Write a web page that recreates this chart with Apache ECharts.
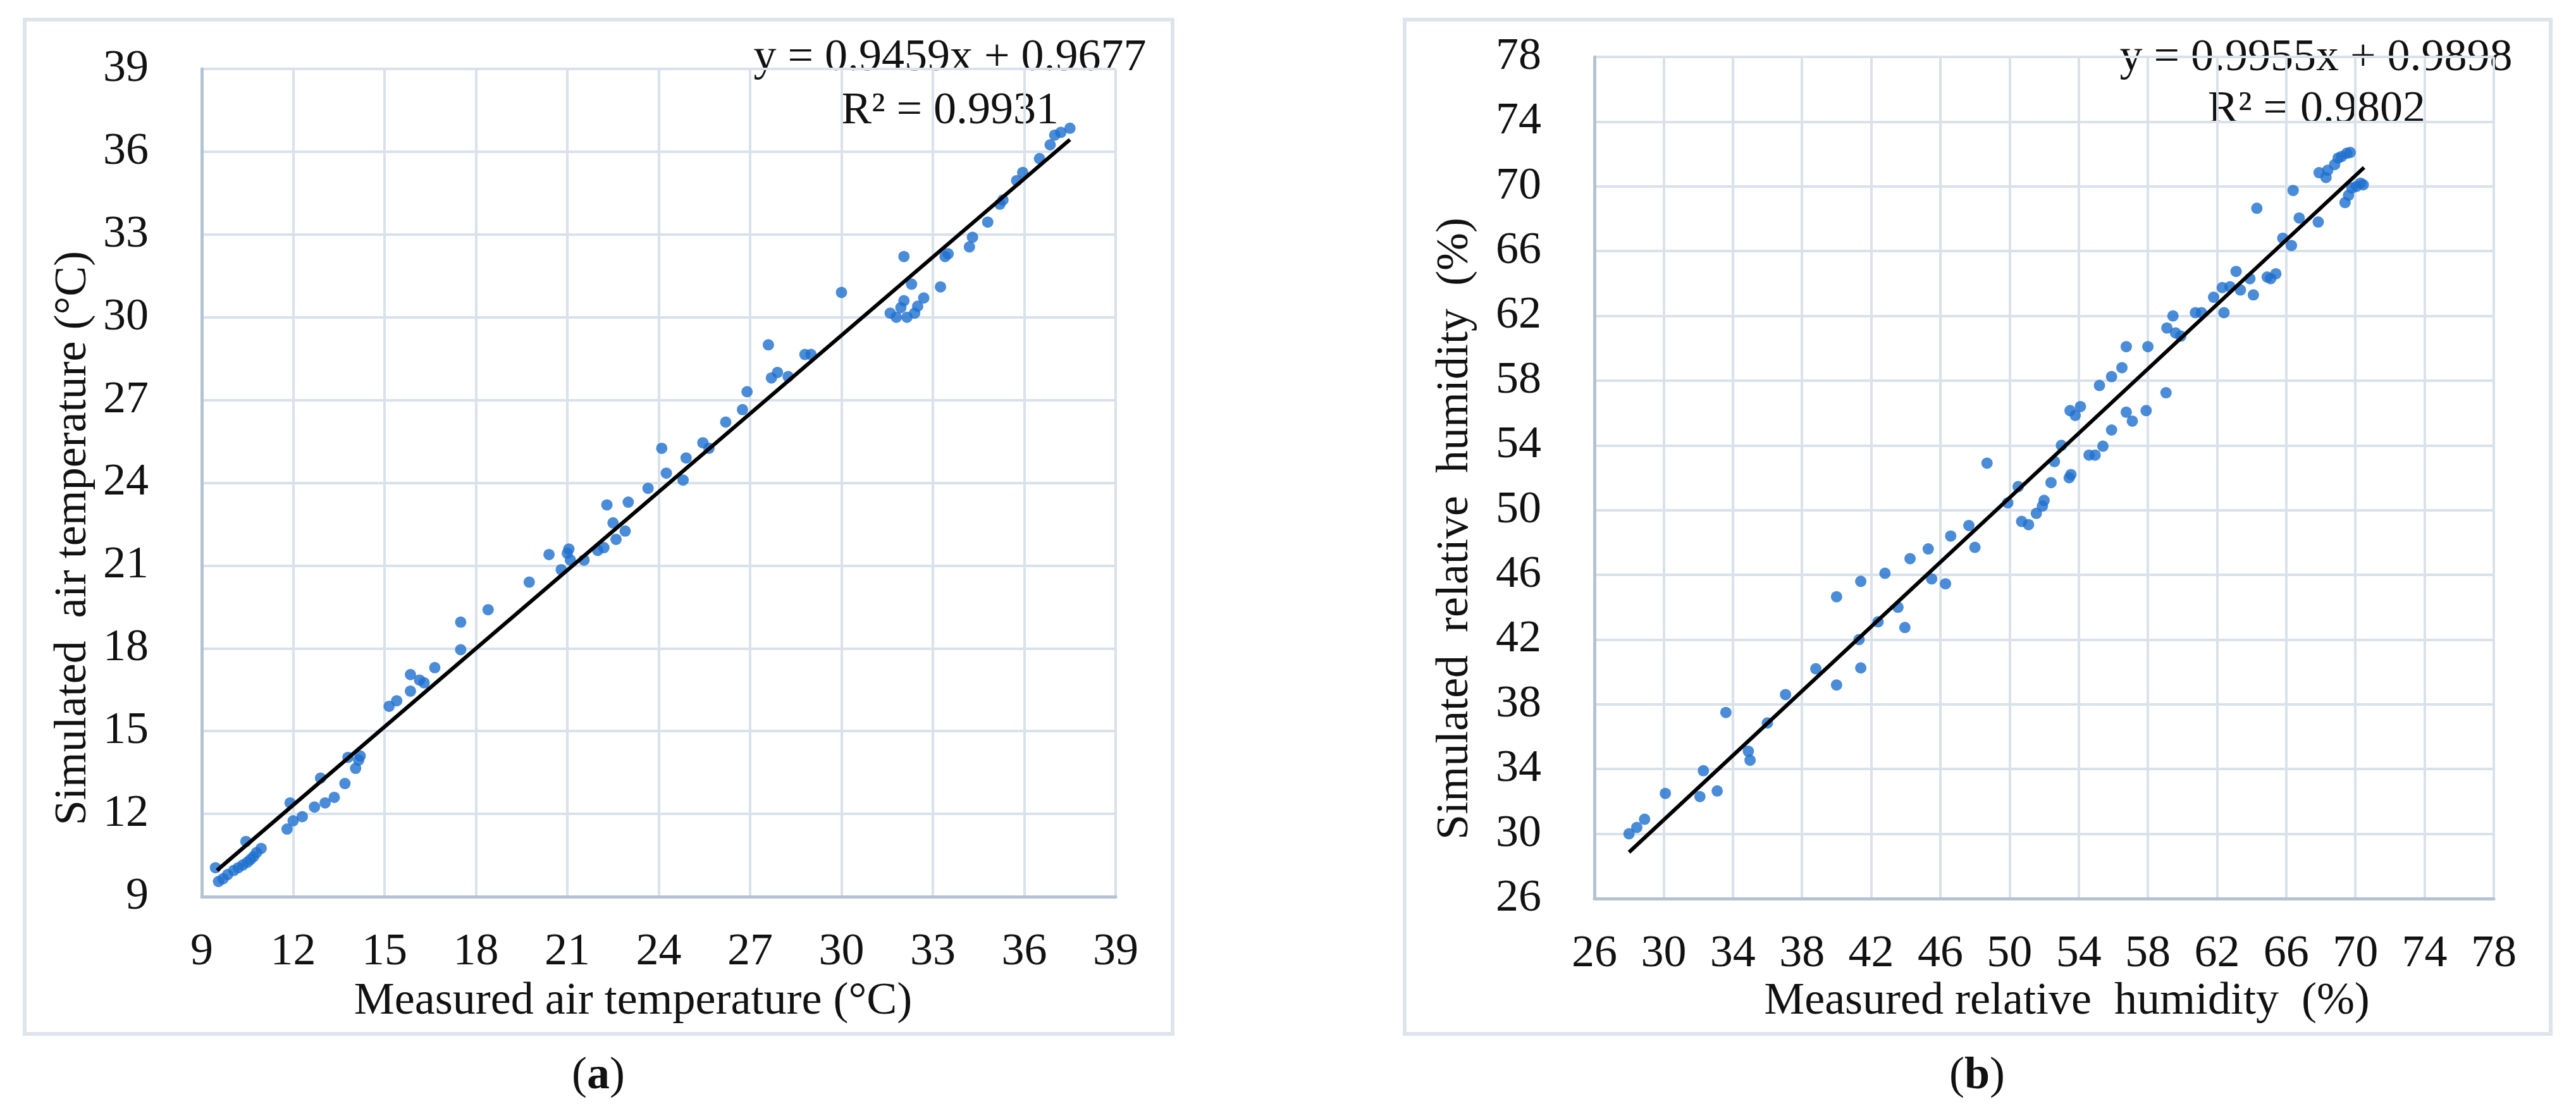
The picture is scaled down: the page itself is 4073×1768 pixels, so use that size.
<!DOCTYPE html>
<html>
<head>
<meta charset="utf-8">
<script src="https://cdn.jsdelivr.net/npm/echarts@6/dist/echarts.min.js"></script>
<style>
html,body{margin:0;padding:0;background:#fff;}
#chart{width:4073px;height:1768px;}
</style>
</head>
<body>
<div id="chart"></div>
<script>
// Panel (a): measured vs simulated air temperature (°C)
var tempPoints = [
[9.45,10.05],[9.55,9.55],[9.7,9.65],[9.85,9.8],[10.05,9.95],[10.2,10.05],[10.35,10.15],[10.45,11.0],[10.5,10.25],[10.6,10.35],[10.7,10.45],[10.8,10.6],[10.95,10.75],
[11.8,11.45],[11.9,12.4],[12.0,11.75],[12.3,11.9],[12.7,12.25],[12.9,13.3],[13.05,12.4],[13.35,12.6],[13.7,13.1],[13.8,14.05],[14.05,13.65],[14.15,13.95],[14.2,14.1],
[15.15,15.9],[15.4,16.1],[15.85,16.45],[15.85,17.05],[16.15,16.85],[16.3,16.75],[16.65,17.3],[17.5,17.95],[17.5,18.95],[18.4,19.4],
[19.75,20.4],[20.4,21.4],[20.8,20.85],[21.05,21.6],[21.1,21.2],[21.0,21.45],[21.55,21.2],[22.0,21.55],[22.2,21.65],[22.3,23.2],[22.5,22.55],[22.6,21.95],[22.9,22.25],[23.0,23.3],[23.65,23.8],[24.1,25.25],[24.25,24.35],[24.8,24.1],[24.9,24.9],[25.45,25.45],[25.65,25.25],
[26.2,26.2],[26.75,26.65],[26.9,27.3],[27.6,29.0],[27.7,27.8],[27.9,28.0],[28.25,27.85],[28.8,28.65],[29.0,28.65],
[30.0,30.9],[31.6,30.15],[31.8,30.0],[31.95,30.35],[32.05,30.6],[32.05,32.2],[32.15,30.0],[32.3,31.2],[32.4,30.15],[32.5,30.4],[32.7,30.7],[33.25,31.1],[33.4,32.2],[33.5,32.3],[34.2,32.55],[34.3,32.9],[34.8,33.45],[35.2,34.1],[35.3,34.25],[35.75,34.95],[35.95,35.25],[36.5,35.75],[36.85,36.25],[37.0,36.6],[37.2,36.7],[37.5,36.85]
];
var tempTrend = [[9.5, 9.954], [37.5, 36.439]];
var tempTicks = {min: 9, max: 39, step: 3};
var tempEq = ['y = 0.9459x + 0.9677', 'R\u00B2 = 0.9931'];

// Panel (b): measured vs simulated relative humidity (%)
var rhPoints = [
[28.0,30.0],[28.45,30.4],[28.9,30.9],[30.1,32.5],[32.1,32.3],[32.3,33.9],[33.1,32.65],[33.6,37.5],[34.9,35.1],[35.0,34.55],[36.0,36.85],[37.05,38.6],[38.8,40.2],[40.0,39.2],[40.0,44.65],[41.3,42.0],[41.4,45.6],[41.4,40.25],[42.4,43.1],[42.8,46.1],[43.55,44.0],[43.95,42.75],[44.25,47.0],[45.3,47.6],[45.5,45.75],[46.3,45.45],[46.6,48.4],[47.65,49.05],[48.0,47.7],[48.7,52.9],[49.9,50.45],[50.5,51.45],[50.7,49.3],[51.1,49.1],[51.55,49.8],[51.9,50.25],[52.0,50.6],[52.4,51.7],[52.6,53.0],[53.0,54.0],[53.45,52.0],[53.55,52.2],[53.5,56.15],[53.8,55.85],[54.1,56.4],[54.6,53.4],[54.95,53.4],[55.2,57.7],[55.4,53.95],[55.9,54.95],[55.9,58.25],[56.5,58.8],[56.75,60.1],[56.75,56.05],[57.1,55.5],[58.0,60.1],[57.9,56.15],[59.05,57.25],[59.1,61.25],[59.45,62.0],[59.6,60.95],[59.9,60.75],[60.75,62.2],[61.1,62.2],[61.8,63.15],[62.3,63.75],[62.4,62.2],[62.75,63.8],[63.1,64.75],[63.35,63.6],[63.9,64.3],[64.1,63.3],[64.3,68.65],[64.9,64.4],[65.1,64.3],[65.4,64.6],[65.8,66.8],[66.3,66.35],[66.4,69.75],[66.75,68.05],[67.85,67.8],[67.9,70.85],[68.3,70.55],[68.4,71.0],[68.8,71.35],[69.0,71.75],[69.2,71.85],[69.5,72.05],[69.7,72.1],[69.4,69.0],[69.6,69.45],[69.8,69.9],[70.05,70.0],[70.3,70.2],[70.45,70.1]
];
var rhTrend = [[28.0, 28.864], [70.5, 71.17]];
var rhTicks = {min: 26, max: 78, step: 4};
var rhEq = ['y = 0.9955x + 0.9898', 'R\u00B2 = 0.9802'];

var labels = {
  ax: 'Measured air temperature (\u00B0C)',
  ay: 'Simulated  air temperature (\u00B0C)',
  bx: 'Measured relative  humidity  (%)',
  by: 'Simulated  relative  humidity  (%)'
};

var FONT = 'Liberation Serif';
var FS = 72;
var DOT = '#1d6fce';
var GRID = '#d9e1ea';
var AXIS = '#b3c2d4';

function valueAxis(idx, t) {
  return {
    type: 'value', gridIndex: idx, min: t.min, max: t.max, interval: t.step,
    axisLine: {show: true, lineStyle: {color: AXIS, width: 5}},
    axisTick: {show: false},
    splitLine: {show: true, lineStyle: {color: GRID, width: 4}},
    axisLabel: {fontFamily: FONT, fontSize: FS, color: '#111', margin: 0}
  };
}

var xa = valueAxis(0, tempTicks); xa.axisLabel.margin = 52;
var ya = valueAxis(0, tempTicks); ya.axisLabel.margin = 84;
var xb = valueAxis(1, rhTicks); xb.axisLabel.margin = 52;
var yb = valueAxis(1, rhTicks); yb.axisLabel.margin = 84;

function txt(x, y, s, rot, extra) {
  var o = {type: 'text', x: x, y: y, rotation: rot || 0,
    style: Object.assign({text: s, fontFamily: FONT, fontSize: FS, fill: '#111', align: 'center', verticalAlign: 'middle'}, extra || {})};
  return o;
}

var chart = echarts.init(document.getElementById('chart'), null, {renderer: 'canvas'});
chart.setOption({
  backgroundColor: '#fff',
  animation: false,
  grid: [
    {left: 319, top: 109, width: 1445, height: 1309, containLabel: false},
    {left: 2521, top: 90, width: 1422, height: 1331, containLabel: false}
  ],
  xAxis: [xa, xb],
  yAxis: [ya, yb],
  graphic: [
    {type: 'rect', shape: {x: 39, y: 31, width: 1815, height: 1604}, style: {fill: 'none', stroke: '#dde4ec', lineWidth: 6}, z: -1},
    {type: 'rect', shape: {x: 2221, y: 31, width: 1812, height: 1604}, style: {fill: 'none', stroke: '#dde4ec', lineWidth: 6}, z: -1},
    txt(1001, 1584, labels.ax),
    txt(3268, 1584, labels.bx),
    txt(116, 851, labels.ay, Math.PI / 2),
    txt(2301, 836, labels.by, Math.PI / 2),
    txt(1502, 92, tempEq[0]),
    txt(1502, 176, tempEq[1]),
    txt(3662, 92, rhEq[0]),
    txt(3663, 174, rhEq[1]),
    {type: 'text', x: 946, y: 1702, style: {text: '{p|(}{b|a}{p|)}', align: 'center', verticalAlign: 'middle',
      rich: {p: {fontFamily: FONT, fontSize: FS, fill: '#111'}, b: {fontFamily: FONT, fontSize: FS, fontWeight: 'bold', fill: '#111'}}}},
    {type: 'text', x: 3126, y: 1702, style: {text: '{p|(}{b|b}{p|)}', align: 'center', verticalAlign: 'middle',
      rich: {p: {fontFamily: FONT, fontSize: FS, fill: '#111'}, b: {fontFamily: FONT, fontSize: FS, fontWeight: 'bold', fill: '#111'}}}}
  ],
  series: [
    {type: 'scatter', xAxisIndex: 0, yAxisIndex: 0, data: tempPoints, symbolSize: 18, itemStyle: {color: DOT}, z: 2},
    {type: 'line', xAxisIndex: 0, yAxisIndex: 0, data: tempTrend, showSymbol: false, symbol: 'none', lineStyle: {color: '#000', width: 6}, z: 3},
    {type: 'scatter', xAxisIndex: 1, yAxisIndex: 1, data: rhPoints, symbolSize: 18, itemStyle: {color: DOT}, z: 2},
    {type: 'line', xAxisIndex: 1, yAxisIndex: 1, data: rhTrend, showSymbol: false, symbol: 'none', lineStyle: {color: '#000', width: 6}, z: 3}
  ]
});
</script>
</body>
</html>
